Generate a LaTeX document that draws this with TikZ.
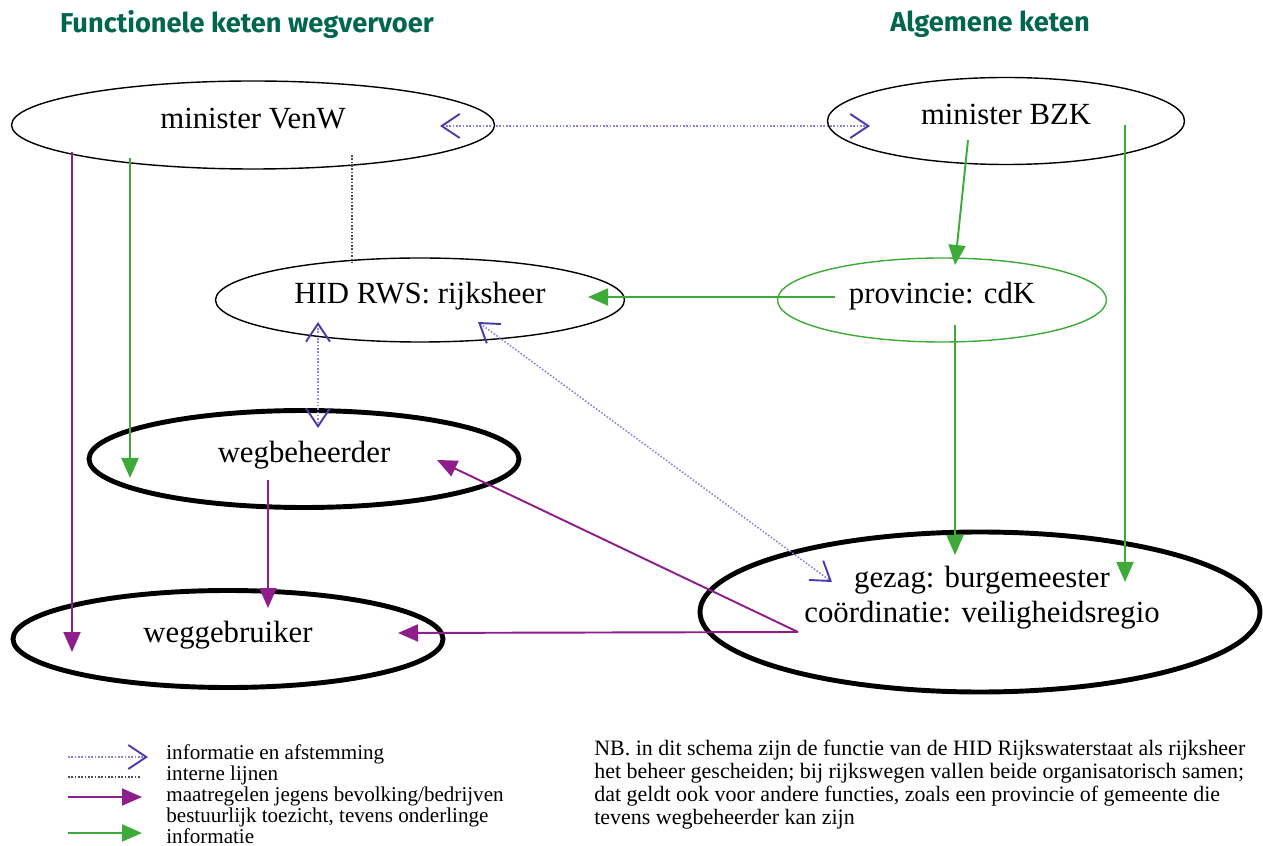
\documentclass[tikz,border=0pt]{standalone}
\usepackage{fontspec}
\setmainfont{Liberation Serif}
\newfontfamily\titlefont{Fira Sans}
\usetikzlibrary{shapes.geometric,arrows.meta}
\definecolor{titlegreen}{HTML}{00664F}
\definecolor{infoblue}{HTML}{4A3DA8}
\definecolor{dotblue}{HTML}{8C84D8}
\definecolor{paars}{HTML}{8E1E8C}
\definecolor{groen}{HTML}{3DAA3A}
\tikzset{%
    ell/.style={ellipse,draw=black,line width=0.8pt,inner sep=0pt,text height=12.5pt,text depth=8.7pt,font=\fontsize{17.5}{20}\selectfont}
}

\begin{document}
\begin{tikzpicture}[x=0.2mm,y=-0.2mm,
        >={Straight Barb[length=3.6mm,width=4.8mm,line width=1.1pt,color=infoblue]},
        thickell/.style={ell,line width=2.8pt},
        info/.style={<->,dotblue,densely dotted,line width=0.9pt},
        intern/.style={black!70,densely dotted,line width=0.9pt},
        maatr/.style={-{Triangle[length=4mm,width=3.4mm]},paars,line width=1.1pt},
        toez/.style={-{Triangle[length=4mm,width=3.4mm]},groen,line width=1.1pt},
        kop/.style={titlegreen,font=\titlefont\bfseries\fontsize{15.5}{18}\selectfont}
        ]
        \useasboundingbox (0,0) rectangle (1263,846);

        \node[kop] (kopl) at (247,24) {Functionele keten wegvervoer};
        \node[kop] (kopr) at (990,24) {Algemene keten};

        \node[ell,minimum width=96.6mm,minimum height=17.6mm] (venw) at (253,125) {minister VenW};
        \node[ell,minimum width=71.4mm,minimum height=17.4mm] (bzk) at (1006,121) {minister BZK};
        \node[ell,minimum width=81.8mm,minimum height=16.8mm] (hid) at (420,300) {HID RWS: rijksheer};
        \node[ell,draw=groen,minimum width=65.8mm,minimum height=16.8mm] (prov) at (942,300) {provincie: cdK};
        \node[thickell,minimum width=86mm,minimum height=19.4mm] (wbh) at (304,459) {wegbeheerder};
        \node[thickell,minimum width=86mm,minimum height=19.4mm] (wgb) at (228,639) {weggebruiker};
        \node[thickell,minimum width=112mm,minimum height=32mm] (gez) at (980,612) {};
        \node[align=center,inner sep=0pt,font=\fontsize{17.5}{20}\selectfont] (gezt) at (982,598) {gezag: burgemeester\\coördinatie: veiligheidsregio};

        % eindpunten binnen de ellipsen
        \coordinate (venwi) at (440,126);
        \coordinate (bzki) at (870,126);
        \coordinate (hida) at (318,322);
        \coordinate (wbha) at (318,428);
        \coordinate (hidb) at (478,322);
        \coordinate (gezb) at (832,582);
        \coordinate (venwc) at (352,155);
        \coordinate (hidc) at (352,262);
        \coordinate (venwp) at (72,152);
        \coordinate (wgbp) at (72,652);
        \coordinate (wbhp) at (268,480);
        \coordinate (wgbq) at (268,608);
        \coordinate (gezp) at (798,632);
        \coordinate (wgbr) at (398,633);
        \coordinate (wbhq) at (437,460);
        \coordinate (venwg) at (130,158);
        \coordinate (wbhg) at (130,478);
        \coordinate (bzkg) at (968,140);
        \coordinate (provg) at (955,265);
        \coordinate (provh) at (835,297);
        \coordinate (hidg) at (588,297);
        \coordinate (provk) at (955,325);
        \coordinate (gezg) at (955,555);
        \coordinate (bzkh) at (1125,125);
        \coordinate (gezh) at (1125,582);

        \draw[info] (venwi) -- (bzki);
        \draw[info] (hida) -- (wbha);
        \draw[info] (hidb) -- (gezb);
        \draw[intern] (venwc) -- (hidc);

        \draw[maatr] (venwp) -- (wgbp);
        \draw[maatr] (wbhp) -- (wgbq);
        \draw[maatr] (gezp) -- (wgbr);
        \draw[maatr] (gezp) -- (wbhq);

        \draw[toez] (venwg) -- (wbhg);
        \draw[toez] (bzkg) -- (provg);
        \draw[toez] (provh) -- (hidg);
        \draw[toez] (provk) -- (gezg);
        \draw[toez] (bzkh) -- (gezh);

        % legenda
        \coordinate (l1a) at (68,757);
        \coordinate (l1b) at (148,757);
        \coordinate (l2a) at (68,777);
        \coordinate (l2b) at (140,777);
        \coordinate (l3a) at (68,797);
        \coordinate (l3b) at (142,797);
        \coordinate (l4a) at (68,833);
        \coordinate (l4b) at (142,833);
        \draw[dotblue,densely dotted,line width=0.9pt,->] (l1a) -- (l1b);
        \draw[intern] (l2a) -- (l2b);
        \draw[maatr] (l3a) -- (l3b);
        \draw[toez] (l4a) -- (l4b);
        \node[anchor=north west,inner sep=0pt,align=left,font=\fontsize{12}{12}\selectfont] (leg) at (166,744)
            {informatie en afstemming\\interne lijnen\\maatregelen jegens bevolking/bedrijven\\bestuurlijk toezicht, tevens onderlinge\\informatie};

        \node[anchor=north west,inner sep=0pt,align=left,font=\fontsize{12.5}{13}\selectfont] (nb) at (594,740)
            {NB. in dit schema zijn de functie van de HID Rijkswaterstaat als rijksheer\\het beheer gescheiden; bij rijkswegen vallen beide organisatorisch samen;\\dat geldt ook voor andere functies, zoals een provincie of gemeente die\\tevens wegbeheerder kan zijn};
    \end{tikzpicture}
\end{document}
